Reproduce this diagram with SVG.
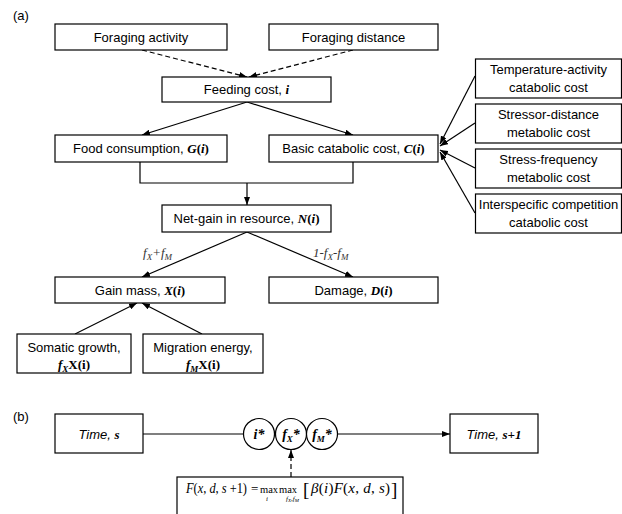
<svg xmlns="http://www.w3.org/2000/svg" width="622" height="514" viewBox="0 0 622 514">
<defs>
<marker id="ah" markerUnits="userSpaceOnUse" markerWidth="8" markerHeight="6" refX="8" refY="3" orient="auto">
<path d="M0,0 L8,3 L0,6 z" fill="#000"/>
</marker>
<style>
.box{fill:#fff;stroke:#000;stroke-width:1.2}
.t{font-family:"Liberation Sans",Arial,sans-serif;font-size:13px;fill:#000;text-anchor:middle}
.bi{font-family:"Liberation Serif","Times New Roman",serif;font-weight:bold;font-style:italic}
.b{font-family:"Liberation Serif","Times New Roman",serif;font-weight:bold;font-style:normal}
.ln{fill:none;stroke:#000;stroke-width:1.2}
.da{stroke-dasharray:5,3}
.m{font-family:"Liberation Serif","Times New Roman",serif;fill:#000}
.it{font-style:italic}
.lbl{font-family:"Liberation Serif","Times New Roman",serif;font-style:italic;font-size:13px;fill:#333}
.pl{font-family:"Liberation Sans",Arial,sans-serif;font-size:13px;fill:#000}
</style>
</defs>

<text class="pl" x="13" y="20">(a)</text>
<text class="pl" x="13" y="421">(b)</text>

<g id="connectors">
<line class="ln da" x1="142" y1="50" x2="247" y2="77" marker-end="url(#ah)"/>
<line class="ln da" x1="353" y1="50" x2="249" y2="77" marker-end="url(#ah)"/>
<line class="ln" x1="247" y1="102" x2="142" y2="135" marker-end="url(#ah)"/>
<line class="ln" x1="247" y1="102" x2="353" y2="135" marker-end="url(#ah)"/>
<polyline class="ln" points="140,162 140,183 353,183 353,162"/>
<line class="ln" x1="247" y1="183" x2="247" y2="205" marker-end="url(#ah)"/>
<line class="ln" x1="475" y1="76" x2="440" y2="144" marker-end="url(#ah)"/>
<line class="ln" x1="475" y1="123" x2="440" y2="146" marker-end="url(#ah)"/>
<line class="ln" x1="475" y1="168" x2="440" y2="150" marker-end="url(#ah)"/>
<line class="ln" x1="475" y1="213" x2="440" y2="152" marker-end="url(#ah)"/>
<line class="ln" x1="247" y1="232" x2="142" y2="277" marker-end="url(#ah)"/>
<line class="ln" x1="247" y1="232" x2="353" y2="277" marker-end="url(#ah)"/>
<line class="ln" x1="75" y1="334" x2="137" y2="303" marker-end="url(#ah)"/>
<line class="ln" x1="202" y1="334" x2="142" y2="303" marker-end="url(#ah)"/>
<text class="lbl" x="143" y="257">f<tspan dy="3" font-size="9">X</tspan><tspan dy="-3">+f</tspan><tspan dy="3" font-size="9">M</tspan></text>
<text class="lbl" x="313" y="257">1-f<tspan dy="3" font-size="9">X</tspan><tspan dy="-3">-f</tspan><tspan dy="3" font-size="9">M</tspan></text>
<line class="ln" x1="143" y1="434" x2="243.5" y2="434"/>
<line class="ln" x1="337.5" y1="434" x2="450" y2="434" marker-end="url(#ah)"/>
<line class="ln da" x1="291" y1="477" x2="291" y2="450" marker-end="url(#ah)"/>
</g>

<g id="foraging-activity">
<rect class="box" x="55" y="24" width="172" height="26"/>
<text class="t" x="141" y="41.5">Foraging activity</text>
</g>
<g id="foraging-distance">
<rect class="box" x="269" y="24" width="169" height="26"/>
<text class="t" x="353.5" y="41.5">Foraging distance</text>
</g>
<g id="feeding-cost">
<rect class="box" x="162" y="77" width="169" height="25"/>
<text class="t" x="246.5" y="94">Feeding cost, <tspan class="bi">i</tspan></text>
</g>
<g id="food-consumption">
<rect class="box" x="55" y="135" width="172" height="27"/>
<text class="t" x="141" y="153">Food consumption, <tspan class="bi">G</tspan><tspan class="b">(</tspan><tspan class="bi">i</tspan><tspan class="b">)</tspan></text>
</g>
<g id="basic-catabolic-cost">
<rect class="box" x="269" y="135" width="169" height="27"/>
<text class="t" x="353.5" y="153">Basic catabolic cost, <tspan class="bi">C</tspan><tspan class="b">(</tspan><tspan class="bi">i</tspan><tspan class="b">)</tspan></text>
</g>
<g id="temperature-activity">
<rect class="box" x="475.5" y="59" width="146" height="39"/>
<text class="t" x="548.5" y="74">Temperature-activity</text>
<text class="t" x="548.5" y="92">catabolic cost</text>
</g>
<g id="stressor-distance">
<rect class="box" x="475.5" y="104" width="146" height="39"/>
<text class="t" x="548.5" y="119">Stressor-distance</text>
<text class="t" x="548.5" y="137">metabolic cost</text>
</g>
<g id="stress-frequency">
<rect class="box" x="475.5" y="149" width="146" height="39"/>
<text class="t" x="548.5" y="164">Stress-frequency</text>
<text class="t" x="548.5" y="182">metabolic cost</text>
</g>
<g id="interspecific-competition">
<rect class="box" x="475.5" y="194" width="146" height="39"/>
<text class="t" x="548.5" y="209">Interspecific competition</text>
<text class="t" x="548.5" y="227">catabolic cost</text>
</g>
<g id="net-gain">
<rect class="box" x="162" y="205" width="169" height="27"/>
<text class="t" x="246.5" y="223">Net-gain in resource, <tspan class="bi">N</tspan><tspan class="b">(</tspan><tspan class="bi">i</tspan><tspan class="b">)</tspan></text>
</g>
<g id="gain-mass">
<rect class="box" x="55" y="277" width="170" height="26"/>
<text class="t" x="140" y="294.5">Gain mass, <tspan class="bi">X</tspan><tspan class="b">(</tspan><tspan class="bi">i</tspan><tspan class="b">)</tspan></text>
</g>
<g id="damage">
<rect class="box" x="269" y="277" width="169" height="26"/>
<text class="t" x="353.5" y="294.5">Damage, <tspan class="bi">D</tspan><tspan class="b">(</tspan><tspan class="bi">i</tspan><tspan class="b">)</tspan></text>
</g>
<g id="somatic-growth">
<rect class="box" x="17" y="334" width="114" height="39"/>
<text class="t" x="74" y="352">Somatic growth,</text>
<text class="t" x="74" y="369"><tspan class="bi">f</tspan><tspan class="bi" font-size="9" dy="3">X</tspan><tspan class="b" dy="-3">X(i)</tspan></text>
</g>
<g id="migration-energy">
<rect class="box" x="143" y="334" width="120" height="39"/>
<text class="t" x="203" y="352">Migration energy,</text>
<text class="t" x="203" y="369"><tspan class="bi">f</tspan><tspan class="bi" font-size="9" dy="3">M</tspan><tspan class="b" dy="-3">X(i)</tspan></text>
</g>

<g id="time-s">
<rect class="box" x="55" y="414" width="88" height="39"/>
<text class="t" x="99" y="439"><tspan font-style="italic">Time, </tspan><tspan class="bi">s</tspan></text>
</g>
<g id="time-s1">
<rect class="box" x="450" y="414" width="88" height="39"/>
<text class="t" x="494" y="439"><tspan font-style="italic">Time, </tspan><tspan class="bi">s+1</tspan></text>
</g>
<g id="i-star">
<circle class="box" cx="259" cy="434" r="15.5"/>
<text class="t" x="259" y="439"><tspan class="bi" font-size="14">i*</tspan></text>
</g>
<g id="fx-star">
<circle class="box" cx="291" cy="434" r="15.5"/>
<text class="t" x="291" y="439"><tspan class="bi" font-size="14">f</tspan><tspan class="bi" font-size="9" dy="3">X</tspan><tspan class="bi" font-size="14" dy="-3">*</tspan></text>
</g>
<g id="fm-star">
<circle class="box" cx="322" cy="434" r="15.5"/>
<text class="t" x="322" y="439"><tspan class="bi" font-size="14">f</tspan><tspan class="bi" font-size="9" dy="3">M</tspan><tspan class="bi" font-size="14" dy="-3">*</tspan></text>
</g>
<g id="bellman-equation">
<rect class="box" x="177" y="477" width="226" height="45"/>
<text class="m" x="186" y="493" font-size="14" textLength="61" lengthAdjust="spacingAndGlyphs"><tspan class="it">F</tspan>(<tspan class="it">x</tspan>, <tspan class="it">d</tspan>, <tspan class="it">s</tspan> +1)</text>
<text class="m" x="251" y="493" font-size="13">=</text>
<text class="m" x="260" y="493" font-size="10.5">max</text>
<text class="m" x="279" y="493" font-size="10.5">max</text>
<text class="m it" x="266" y="501" font-size="7">i</text>
<text class="m it" x="286" y="501" font-size="7">f<tspan font-size="5" dy="1">X</tspan><tspan dy="-1">,f</tspan><tspan font-size="5" dy="1">M</tspan></text>
<text class="m" x="303" y="496" font-size="19">[</text>
<text class="m" x="311" y="493" font-size="15" textLength="79" lengthAdjust="spacing"><tspan class="it">β</tspan>(<tspan class="it">i</tspan>)<tspan class="it">F</tspan>(<tspan class="it">x</tspan>, <tspan class="it">d</tspan>, <tspan class="it">s</tspan>)</text>
<text class="m" x="391" y="496" font-size="19">]</text>
</g>
</svg>
